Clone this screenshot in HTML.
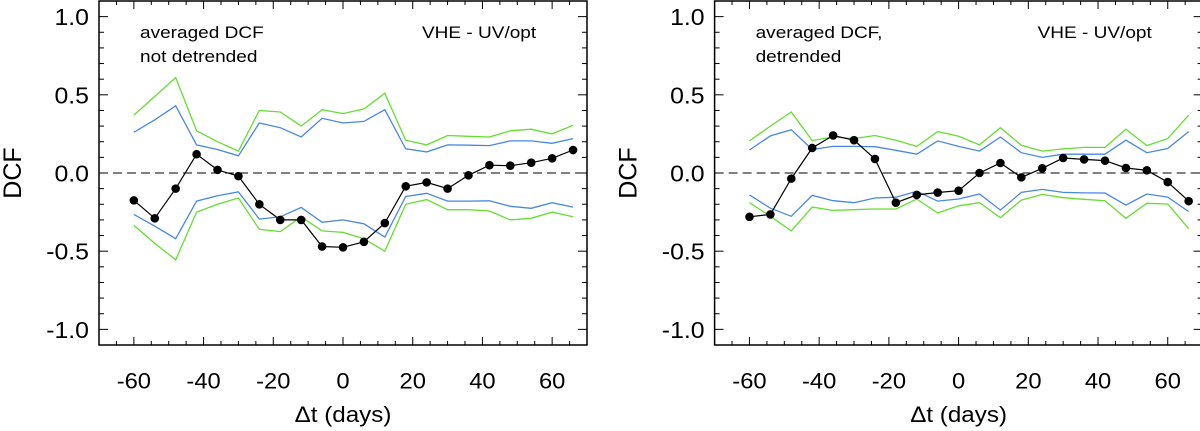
<!DOCTYPE html>
<html><head><meta charset="utf-8"><style>
body{margin:0;background:#fff;}
svg{display:block;font-family:"Liberation Sans",Arial,sans-serif;}
</style></head><body>
<svg id="chart" width="1200" height="431"></svg>
<script>
const lags=[-60,-54,-48,-42,-36,-30,-24,-18,-12,-6,0,6,12,18,24,30,36,42,48,54,60,66];
const leftDcf=[-0.175,-0.29,-0.10,0.12,0.02,-0.02,-0.20,-0.30,-0.30,-0.47,-0.475,-0.44,-0.32,-0.085,-0.06,-0.10,-0.015,0.05,0.047,0.066,0.094,0.147];
const leftGreenUp=[0.37,0.49,0.61,0.27,0.20,0.14,0.40,0.39,0.30,0.405,0.38,0.41,0.51,0.21,0.18,0.24,0.235,0.23,0.27,0.28,0.25,0.305];
const leftBlueUp=[0.26,0.34,0.43,0.18,0.15,0.11,0.32,0.29,0.23,0.35,0.32,0.33,0.405,0.155,0.135,0.18,0.178,0.175,0.205,0.205,0.19,0.22];
const leftBlueLo=[-0.265,-0.34,-0.42,-0.18,-0.145,-0.12,-0.295,-0.28,-0.22,-0.315,-0.30,-0.325,-0.41,-0.15,-0.13,-0.18,-0.18,-0.178,-0.213,-0.226,-0.19,-0.218];
const leftGreenLo=[-0.335,-0.45,-0.555,-0.25,-0.20,-0.16,-0.36,-0.375,-0.28,-0.37,-0.38,-0.42,-0.50,-0.20,-0.17,-0.235,-0.235,-0.243,-0.30,-0.29,-0.25,-0.28];
const rightDcf=[-0.28,-0.265,-0.036,0.16,0.24,0.21,0.09,-0.19,-0.14,-0.125,-0.113,0,0.064,-0.028,0.03,0.096,0.087,0.079,0.032,0.017,-0.058,-0.18];
const rightGreenUp=[0.205,0.30,0.39,0.207,0.23,0.22,0.24,0.21,0.17,0.265,0.235,0.18,0.29,0.177,0.14,0.154,0.164,0.164,0.28,0.175,0.22,0.37];
const rightBlueUp=[0.147,0.237,0.277,0.15,0.17,0.17,0.168,0.145,0.12,0.205,0.17,0.14,0.23,0.13,0.10,0.12,0.12,0.12,0.21,0.13,0.157,0.265];
const rightBlueLo=[-0.14,-0.225,-0.277,-0.143,-0.177,-0.19,-0.16,-0.155,-0.117,-0.18,-0.166,-0.134,-0.237,-0.124,-0.105,-0.124,-0.127,-0.128,-0.205,-0.134,-0.154,-0.247];
const rightGreenLo=[-0.19,-0.277,-0.37,-0.218,-0.239,-0.235,-0.23,-0.23,-0.166,-0.256,-0.21,-0.19,-0.286,-0.173,-0.137,-0.158,-0.168,-0.177,-0.29,-0.194,-0.198,-0.356];
const xTickLabels=[-60,-40,-20,0,20,40,60];
const yTickLabels=["1.0","0.5","0.0","-0.5","-1.0"];
const yTickValues=[1,0.5,0,-0.5,-1];

const NS="http://www.w3.org/2000/svg";
const svg=document.getElementById('chart');
function mk(tag,attrs,parent){const e=document.createElementNS(NS,tag);for(const k in attrs)e.setAttribute(k,attrs[k]);(parent||svg).appendChild(e);return e;}
function txt(parent,x,y,s,size,anchor){return mk('text',{x:0,y:0,'font-size':size,'text-anchor':anchor,transform:`translate(${x},${y}) scale(${s},1)`},parent);}

function panel(x0,idx,dcf,gu,bu,bl,gl,line1,line2){
  const L=x0,R=x0+488,T=1,B=345;
  const sx=v=>L+(v+70)/140*(R-L);
  const sy=v=>T+(1.1-v)/2.2*(B-T);
  const g=mk('g',{});
  
  
  const fr=mk('rect',{x:L,y:T,width:R-L,height:B-T,fill:'none',stroke:'#000','stroke-width':1.5},g);
  
  
  for(let i=-11;i<=11;i++){const v=i/10,y=sy(v),len=(i%5===0)?9:5;
    mk('line',{x1:L,x2:L+len,y1:y,y2:y,stroke:'#000','stroke-width':1},g);
    mk('line',{x1:R,x2:R-len,y1:y,y2:y,stroke:'#000','stroke-width':1},g);}
  for(let v=-70;v<=70;v+=5){const x=sx(v),len=(v%20===0)?8:4;
    mk('line',{x1:x,x2:x,y1:B,y2:B-len,stroke:'#000','stroke-width':1},g);
    mk('line',{x1:x,x2:x,y1:T,y2:T+len,stroke:'#000','stroke-width':1},g);}
  yTickValues.forEach((v,i)=>{const t=txt(g,L-10,sy(v)+8.5,1.08,23,'end');t.textContent=yTickLabels[i];
    
    });
  xTickLabels.forEach(v=>{const t=txt(g,sx(v),388.5,1.08,22,'middle');t.textContent=v;
    
    });
  const xt=txt(g,(L+R)/2,422,1.1,22,'middle');xt.textContent='Δt (days)';
  
  
  const yt=mk('text',{x:0,y:0,'text-anchor':'middle','font-size':25,transform:`translate(${L-78},${sy(0)}) rotate(-90)`},g);yt.textContent='DCF';
  
  
  const z=mk('line',{x1:L,x2:R,y1:sy(0),y2:sy(0),stroke:'#000','stroke-width':1,'stroke-dasharray':'9,5'},g);
  
  
  const pts=a=>a.map((v,i)=>sx(lags[i]).toFixed(1)+','+sy(v).toFixed(1)).join(' ');
  [[gu,'#66dd33','green-upper-band'],[bu,'#4a88e0','blue-upper-band'],[bl,'#4a88e0','blue-lower-band'],[gl,'#66dd33','green-lower-band']].forEach(([a,c,n])=>{
    const p=mk('polyline',{points:pts(a),fill:'none',stroke:c,'stroke-width':1.3},g);
    
    });
  const dl=mk('polyline',{points:pts(dcf),fill:'none',stroke:'#000','stroke-width':1.2},g);
  
  
  dcf.forEach((v,i)=>{const c=mk('circle',{cx:sx(lags[i]),cy:sy(v),r:4.3,fill:'#000'},g);
    
    });
  const a1=txt(g,L+41,38,1.12,17,'start');a1.textContent=line1;
  
  
  const a2=txt(g,L+41,62,1.12,17,'start');a2.textContent=line2;
  
  
  const a3=txt(g,L+323,38,1.12,17,'start');a3.textContent='VHE - UV/opt';
  
  
}
panel(99,'left',leftDcf,leftGreenUp,leftBlueUp,leftBlueLo,leftGreenLo,'averaged DCF','not detrended');
panel(714.6,'right',rightDcf,rightGreenUp,rightBlueUp,rightBlueLo,rightGreenLo,'averaged DCF,','detrended');
</script>
</body></html>
